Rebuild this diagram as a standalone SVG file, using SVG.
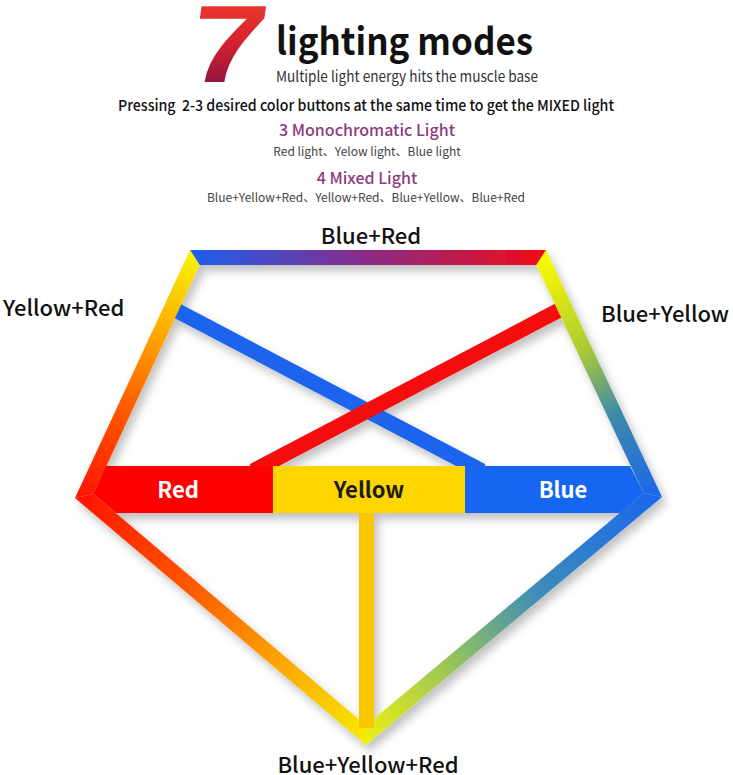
<svg xmlns="http://www.w3.org/2000/svg" width="733" height="775" viewBox="0 0 733 775">
<defs>
<style>
.t{font-family:"Noto Sans CJK SC","Noto Sans",sans-serif;}
.lbl{font-family:"Noto Sans CJK SC","Noto Sans",sans-serif;font-size:22px;font-weight:500;fill:#111;}
.node{font-family:"Noto Sans CJK SC","Noto Sans",sans-serif;font-size:22px;font-weight:700;text-anchor:middle;}
.pur{fill:#8c3b7e;font-size:16px;font-weight:500;text-anchor:middle;}
.sub{fill:#444;font-size:12px;text-anchor:middle;}
</style>
<linearGradient id="g7" x1="0" y1="0" x2="0" y2="1">
<stop offset="0" stop-color="#f4452c"/><stop offset="0.5" stop-color="#d5202e"/><stop offset="1" stop-color="#6e0f4e"/>
</linearGradient>
<linearGradient id="gTop" gradientUnits="userSpaceOnUse" x1="190" y1="0" x2="546" y2="0">
<stop offset="0" stop-color="#1b5ff2"/><stop offset="0.5" stop-color="#8a2b86"/><stop offset="1" stop-color="#f30a14"/>
</linearGradient>
<linearGradient id="gRU" gradientUnits="userSpaceOnUse" x1="546" y1="250" x2="662" y2="497">
<stop offset="0.05" stop-color="#f6f800"/><stop offset="0.4" stop-color="#a8c83a"/><stop offset="0.65" stop-color="#3f8aa8"/><stop offset="1" stop-color="#1a66ee"/>
</linearGradient>
<linearGradient id="gRL" gradientUnits="userSpaceOnUse" x1="662" y1="497" x2="366" y2="745">
<stop offset="0" stop-color="#1a66ee"/><stop offset="0.4" stop-color="#3c8cba"/><stop offset="0.7" stop-color="#98c45a"/><stop offset="1" stop-color="#f0f010"/>
</linearGradient>
<linearGradient id="gLL" gradientUnits="userSpaceOnUse" x1="75" y1="498" x2="366" y2="745">
<stop offset="0" stop-color="#ff1200"/><stop offset="0.35" stop-color="#ff5200"/><stop offset="0.7" stop-color="#fca800"/><stop offset="1" stop-color="#f8ec00"/>
</linearGradient>
<linearGradient id="gLU" gradientUnits="userSpaceOnUse" x1="75" y1="498" x2="190" y2="250">
<stop offset="0" stop-color="#ff1200"/><stop offset="0.4" stop-color="#ff6000"/><stop offset="0.7" stop-color="#ffae00"/><stop offset="1" stop-color="#f8f400"/>
</linearGradient>
<filter id="sh" x="-10%" y="-10%" width="120%" height="120%">
<feDropShadow dx="4" dy="6" stdDeviation="5" flood-color="#000" flood-opacity="0.25"/>
</filter>
</defs>
<rect width="733" height="775" fill="#fff"/>

<g id="title">
<text transform="translate(185,82) skewX(-8) scale(1.25,1)" x="0" y="0" font-family="Liberation Sans, sans-serif" font-size="110" font-weight="700" fill="url(#g7)">7</text>
<text class="t" x="276" y="55" font-size="38" font-weight="700" fill="#111" textLength="257" lengthAdjust="spacingAndGlyphs">lighting modes</text>
<text class="t" x="276" y="82" font-size="15" fill="#333" textLength="262" lengthAdjust="spacingAndGlyphs">Multiple light energy hits the muscle base</text>
<text class="t" x="118" y="111" font-size="15" font-weight="500" fill="#111" textLength="496" lengthAdjust="spacingAndGlyphs" xml:space="preserve">Pressing  2-3 desired color buttons at the same time to get the MIXED light</text>
<text class="t pur" x="367" y="136">3 Monochromatic Light</text>
<text class="t sub" x="367" y="156">Red light、Yelow light、Blue light</text>
<text class="t pur" x="367" y="184">4 Mixed Light</text>
<text class="t sub" x="366" y="202">Blue+Yellow+Red、Yellow+Red、Blue+Yellow、Blue+Red</text>
</g>

<g id="diagram" filter="url(#sh)">
<g id="connectors">
<line x1="168" y1="306" x2="482" y2="471" stroke="#1a63ee" stroke-width="15"/>
<line x1="567" y1="306" x2="253" y2="471" stroke="#f50a0a" stroke-width="15"/>
<polygon id="e-top" points="190,250 546,250 536.4,265 199.6,265" fill="url(#gTop)"/>
<polygon id="e-ru" points="546,250 662,497 643.5,493 536.4,265" fill="url(#gRU)"/>
<polygon id="e-rl" points="662,497 366,745 366,725.4 643.5,493" fill="url(#gRL)"/>
<polygon id="e-ll" points="366,745 75,498 93.4,494 366,725.4" fill="url(#gLL)"/>
<polygon id="e-lu" points="75,498 190,250 199.6,265 93.4,494" fill="url(#gLU)"/>
<rect id="e-v" x="359" y="512" width="15" height="216" fill="#f9c600"/>
</g>
<g id="node-red">
<polygon points="106,466 273,466 273,513 116,513 93.4,494" fill="#fe0606"/>
</g>
<g id="node-blue">
<polygon points="465,466 630,466 643.5,493 620,513 465,513" fill="#1466f2"/>
</g>
<g id="node-yellow">
<rect x="273" y="466" width="192" height="47" fill="#fdd600"/>
</g>
</g>

<g id="labels">
<text class="node" x="178" y="498" fill="#fff">Red</text>
<text class="node" x="369" y="498" fill="#1a1a1a" font-weight="500">Yellow</text>
<text class="node" x="563" y="498" fill="#fff">Blue</text>
<text class="lbl" x="371" y="244" text-anchor="middle">Blue+Red</text>
<text class="lbl" x="3" y="316">Yellow+Red</text>
<text class="lbl" x="601" y="322">Blue+Yellow</text>
<text class="lbl" x="368" y="773" text-anchor="middle">Blue+Yellow+Red</text>
</g>
</svg>
